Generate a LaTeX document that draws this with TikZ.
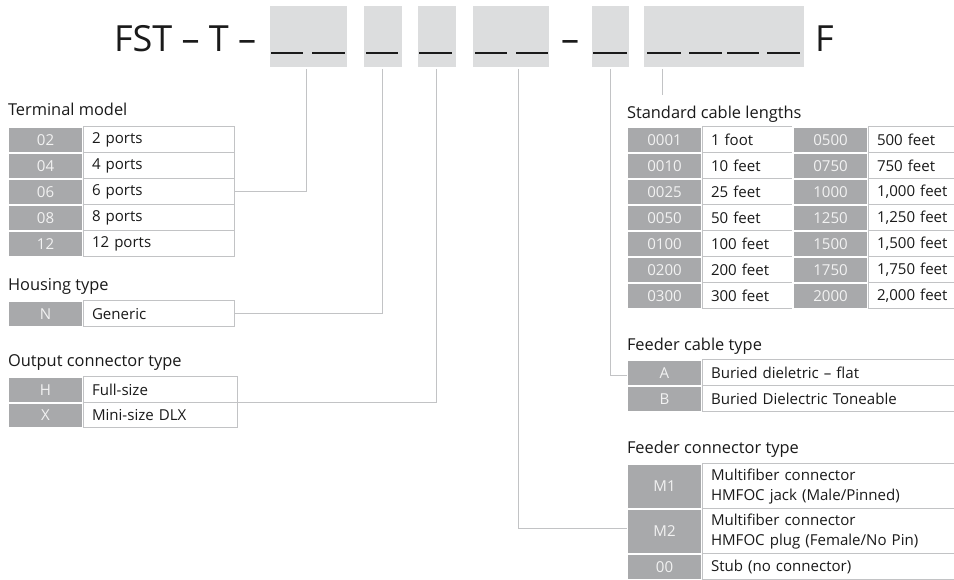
\documentclass[tikz,border=0pt]{standalone}
\usepackage{fontspec}
\setmainfont{Open Sans}
\definecolor{boxgray}{HTML}{DCDDDE}
\definecolor{cellgray}{HTML}{A8A9AB}
\definecolor{linegray}{HTML}{C2C3C5}
\definecolor{celltext}{HTML}{F2F2F2}
\definecolor{ink}{HTML}{1A1A1A}
\begin{document}
\begin{tikzpicture}[x=0.75pt,y=-0.75pt,
  every node/.style={inner sep=0pt, outer sep=0pt, text=ink},
  topbox/.style={fill=boxgray, draw=none, anchor=north west},
  gcell/.style 2 args={fill=cellgray, draw=white, line width=0.9pt, text=celltext,
     minimum width=#1*0.75pt, minimum height=#2*0.75pt, anchor=north west, font=\fontsize{11.3}{13}\selectfont},
  wcell/.style 2 args={fill=white, draw=linegray, line width=0.75pt, anchor=north west,
     inner xsep=6.75pt, text width=(#1-18)*0.75pt, align=left,
     minimum height=#2*0.75pt, font=\fontsize{11.3}{13}\selectfont},
  ttl/.style={anchor=base west, font=\fontsize{12.3}{15}\selectfont},
  conn/.style={draw=linegray, line width=0.75pt},
  uline/.style={draw=ink, line width=1.4pt},
  big/.style={anchor=base west, font=\fontsize{27}{30}\selectfont}
]
\clip (0,0) rectangle (954,580);
\fill[white] (0,0) rectangle (954,580);

% ---- top code line ----
\node[big] (fst) at (114,52) {FST – T –};
\node[topbox, minimum width=77*0.75pt, minimum height=61*0.75pt] (b1) at (270,6) {};
\node[topbox, minimum width=38*0.75pt, minimum height=61*0.75pt] (b2) at (364,6) {};
\node[topbox, minimum width=38*0.75pt, minimum height=61*0.75pt] (b3) at (418,6) {};
\node[topbox, minimum width=76*0.75pt, minimum height=61*0.75pt] (b4) at (473,6) {};
\node[big] (dash) at (561,52) {–};
\node[topbox, minimum width=37*0.75pt, minimum height=61*0.75pt] (b5) at (592,6) {};
\node[topbox, minimum width=160*0.75pt, minimum height=61*0.75pt] (b6) at (644,6) {};
\node[big] (fch) at (815,52) {F};

\foreach \a/\b in {271/303,312/345,366/398,419/452,475/507,516/548,593/627,647/681,689/722,727/759,767/800}
  \draw[uline] (\a,53) -- (\b,53);

% ---- Terminal model ----
\node[ttl] (tmT) at (8,116) {Terminal model};
\node[gcell={75}{26}] (tm1c) at (8,127) {02};
\node[wcell={151}{26}] (tm1t) at (83,127) {2 ports};
\node[gcell={75}{26}] (tm2c) at (8,153) {04};
\node[wcell={151}{26}] (tm2t) at (83,153) {4 ports};
\node[gcell={75}{26}] (tm3c) at (8,179) {06};
\node[wcell={151}{26}] (tm3t) at (83,179) {6 ports};
\node[gcell={75}{26}] (tm4c) at (8,205) {08};
\node[wcell={151}{26}] (tm4t) at (83,205) {8 ports};
\node[gcell={75}{26}] (tm5c) at (8,231) {12};
\node[wcell={151}{26}] (tm5t) at (83,231) {12 ports};

% ---- Housing type ----
\node[ttl] (htT) at (8,291) {Housing type};
\node[gcell={75}{26}] (ht1c) at (8,301) {N};
\node[wcell={151}{26}] (ht1t) at (83,301) {Generic};

% ---- Output connector type ----
\node[ttl] (ocT) at (8,367) {Output connector type};
\node[gcell={75}{26}] (oc1c) at (8,377) {H};
\node[wcell={154}{26}] (oc1t) at (83,377) {Full-size};
\node[gcell={75}{25}] (oc2c) at (8,403) {X};
\node[wcell={154}{25}] (oc2t) at (83,403) {Mini-size DLX};

% ---- Standard cable lengths ----
\node[ttl] (slT) at (627,119) {Standard cable lengths};
\foreach \i/\ca/\ta/\cb/\tb in {1/0001/1 foot/0500/500 feet,2/0010/10 feet/0750/750 feet,
   3/0025/25 feet/1000/{1,000 feet},4/0050/50 feet/1250/{1,250 feet},5/0100/100 feet/1500/{1,500 feet},
   6/0200/200 feet/1750/{1,750 feet},7/0300/300 feet/2000/{2,000 feet}}{
  \pgfmathsetmacro{\yy}{127+26*(\i-1)}
  \node[gcell={75}{26}] (sl\i a) at (627,\yy) {\ca};
  \node[wcell={91}{26}] (sl\i b) at (702,\yy) {\ta};
  \node[gcell={75}{26}] (sl\i c) at (793,\yy) {\cb};
  \node[wcell={100}{26}] (sl\i d) at (868,\yy) {\tb};
}

% ---- Feeder cable type ----
\node[ttl] (fcT) at (627,351) {Feeder cable type};
\node[gcell={75}{26}] (fc1c) at (627,360) {A};
\node[wcell={260}{26}] (fc1t) at (702,360) {Buried dieletric – flat};
\node[gcell={75}{26}] (fc2c) at (627,386) {B};
\node[wcell={260}{26}] (fc2t) at (702,386) {Buried Dielectric Toneable};

% ---- Feeder connector type ----
\node[ttl] (fnT) at (627,454) {Feeder connector type};
\node[gcell={75}{45}] (fn1c) at (627,464) {M1};
\node[wcell={260}{45}, font=\fontsize{11.3}{15}\selectfont] (fn1t) at (702,464) {Multifiber connector\\HMFOC jack (Male/Pinned)};
\node[gcell={75}{45}] (fn2c) at (627,509) {M2};
\node[wcell={260}{45}, font=\fontsize{11.3}{15}\selectfont] (fn2t) at (702,509) {Multifiber connector\\HMFOC plug (Female/No Pin)};
\node[gcell={75}{26}] (fn3c) at (627,554) {00};
\node[wcell={260}{26}] (fn3t) at (702,554) {Stub (no connector)};

% ---- connectors ----
\draw[conn] ([xshift=-2.5*0.75pt, yshift=-2*0.75pt]b1.south) |- (tm3t.east);
\draw[conn] ([xshift=-1*0.75pt, yshift=-2*0.75pt]b2.south) |- (ht1t.east);
\draw[conn] ([xshift=-1*0.75pt, yshift=-2*0.75pt]b3.south) |- (oc1t.south east);
\draw[conn] ([xshift=7*0.75pt, yshift=-2*0.75pt]b4.south) |- ([yshift=3*0.75pt]fn2c.west);
\draw[conn] ([xshift=0*0.75pt, yshift=-2*0.75pt]b5.south) |- ([yshift=-3*0.75pt]fc1c.west);
\coordinate (slend) at ([xshift=-62*0.75pt, yshift=-28*0.75pt]b6.south);
\draw[conn] ([xshift=-62*0.75pt, yshift=-2*0.75pt]b6.south) -- (slend);
\end{tikzpicture}
\end{document}
